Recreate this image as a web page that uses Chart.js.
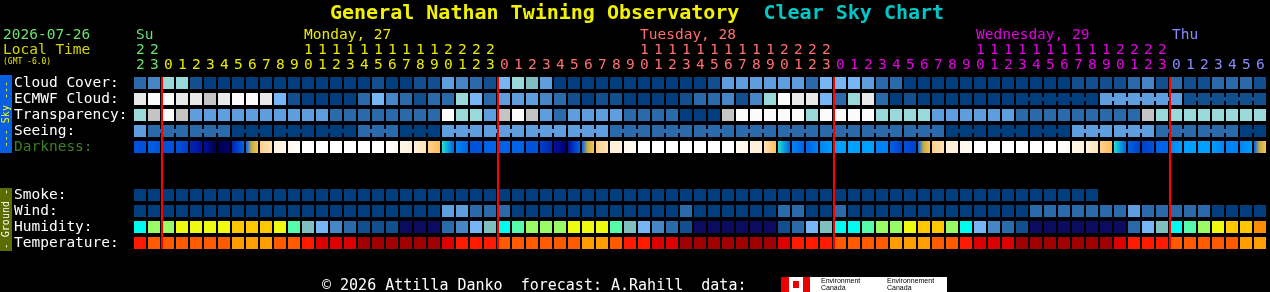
<!DOCTYPE html>
<html>
<head>
<meta charset="utf-8">
<title>Clear Sky Chart</title>
<script src="https://cdn.jsdelivr.net/npm/chart.js@4.4.1/dist/chart.umd.min.js"></script>
<style>
  html, body { margin: 0; padding: 0; background: #000; }
  body { width: 1270px; height: 292px; position: relative; overflow: hidden; font-family: 'DejaVu Sans Mono', monospace; }
  #csc { position: absolute; left: 0; top: 0; }
  .txt { position: absolute; white-space: pre; }
  .side { position: absolute; left: 0; width: 12px; display: flex; align-items: center; justify-content: center; }
  .side span { writing-mode: vertical-rl; transform: rotate(180deg); font-size: 10px; line-height: 12px; white-space: pre; }
  .logo { position: absolute; left: 781px; top: 277px; width: 166px; height: 15px; background: #fff; }
  .logo i { position: absolute; top: 0; height: 15px; background: #e00; }
  .logo b { position: absolute; font-weight: normal; font-family: 'Liberation Sans', sans-serif; font-size: 7px; line-height: 7px; color: #000; white-space: pre; }
</style>
</head>
<body>
<canvas id="csc" width="1270" height="292"></canvas>

<div class="txt" style="left:330px;top:2px;font-size:20px;line-height:20px;font-weight:bold;color:#f2f200">General Nathan Twining Observatory  <span style="color:#00c8c8">Clear Sky Chart</span></div>
<div class="txt" style="left:3px;top:27px;font-size:14.5px;line-height:15px;color:#6ee06e">2026-07-26</div>
<div class="txt" style="left:3px;top:42px;font-size:14.5px;line-height:15px;color:#d6d600">Local Time</div>
<div class="txt" style="left:3px;top:57px;font-size:8px;line-height:9px;color:#e6e600">(GMT -6.0)</div>

<div class="side" style="top:75px;height:78px;background:#0a5ee0;color:#ffff00"><span>--- Sky ---</span></div>
<div class="side" style="top:188px;height:63px;background:#5c6c00;color:#ffffff"><span>- Ground -</span></div>

<div class="txt" style="left:322px;top:277px;font-size:15px;line-height:16px;color:#ffffff">© 2026 Attilla Danko  forecast: A.Rahill  data:</div>
<div class="logo">
  <i style="left:0;width:8px"></i>
  <i style="left:12px;top:4px;width:6px;height:7px"></i>
  <i style="left:22px;width:7px"></i>
  <b style="left:40px;top:0">Environment
Canada</b>
  <b style="left:106px;top:0">Environnement
Canada</b>
</div>

<script>
// hour of each column (local time), from Sunday 22h to Thursday 6h
const hours = [
    22, 23,
    0, 1, 2, 3, 4, 5, 6, 7, 8, 9, 10, 11, 12, 13, 14, 15, 16, 17, 18, 19, 20, 21, 22, 23,
    0, 1, 2, 3, 4, 5, 6, 7, 8, 9, 10, 11, 12, 13, 14, 15, 16, 17, 18, 19, 20, 21, 22, 23,
    0, 1, 2, 3, 4, 5, 6, 7, 8, 9, 10, 11, 12, 13, 14, 15, 16, 17, 18, 19, 20, 21, 22, 23,
    0, 1, 2, 3, 4, 5, 6
];
const dayNames = ['Su', 'Monday, 27', 'Tuesday, 28', 'Wednesday, 29', 'Thu'];

const rowLabels = ['Cloud Cover:', 'ECMWF Cloud:', 'Transparency:', 'Seeing:', 'Darkness:', '', '',
    'Smoke:', 'Wind:', 'Humidity:', 'Temperature:'];

// cloud cover, percent
const cloudCover = [
    20, 30,
    60, 60, 10, 0, 0, 0, 0, 0, 0, 0, 0, 0, 0, 0, 0, 10, 0, 0, 10, 10, 40, 30, 20, 10,
    50, 60, 70, 40, 0, 0, 0, 0, 0, 0, 0, 0, 0, 0, 0, 10, 40, 40, 40, 40, 40, 40, 20, 50,
    50, 50, 40, 20, 20, 0, 0, 0, 0, 0, 0, 0, 0, 0, 0, 0, 0, 10, 10, 10, 10, 20, 30, 10,
    20, 10, 10, 20, 20, 20, 10
];
const ecmwfCloud = [
    90, 100,
    100, 90, 90, 80, 90, 100, 100, 90, 50, 10, 0, 0, 0, 0, 20, 50, 30, 20, 10, 20, 20, 60, 50, 20,
    40, 40, 40, 30, 20, 10, 0, 10, 10, 0, 0, 0, 0, 10, 20, 20, 30, 10, 30, 60, 100, 90, 90, 50,
    20, 60, 90, 20, 0, 10, 0, 0, 0, 0, 0, 0, 0, 0, 0, 0, 0, 0, 0, 40, 40, 40, 40, 40,
    40, 10, 10, 10, 10, 10, 10
];
// transparency class, 0 = transparent ... 10 = too cloudy
const transparency = [
    6, 8,
    10, 8, 4, 4, 4, 4, 4, 4, 4, 4, 4, 4, 2, 2, 2, 2, 2, 2, 2, 2, 10, 6, 6, 4,
    8, 10, 8, 4, 2, 4, 4, 4, 4, 2, 2, 2, 2, 0, 0, 0, 8, 10, 10, 10, 10, 10, 6, 10,
    10, 10, 10, 6, 6, 6, 6, 4, 4, 4, 4, 4, 4, 2, 2, 2, 2, 2, 2, 2, 2, 2, 8, 6,
    6, 6, 6, 6, 6, 6, 6
];
// seeing class, 0 = excellent
const seeing = [
    4, 2,
    2, 2, 2, 2, 2, 0, 0, 0, 0, 0, 0, 0, 0, 0, 2, 2, 2, 0, 0, 0, 4, 4, 4, 4,
    4, 4, 4, 4, 4, 4, 4, 4, 2, 2, 2, 2, 2, 2, 2, 2, 2, 2, 2, 2, 2, 2, 2, 2,
    2, 2, 2, 2, 2, 2, 2, 2, 0, 0, 0, 0, 0, 0, 0, 0, 0, 4, 4, 4, 4, 4, 4, 2,
    2, 2, 2, 2, 2, 0, 0
];
// darkness across each hour (start .. end), 0 = daylight, 16 = darkest
const darkness = [
    [11], [10, 11],
    [11], [11, 12], [13, 14], [14, 16], [16, 15], [13, 10], [10, 6, 5], [4, 3], [2, 1], [1, 0],
    [0], [0], [0], [0], [0], [0], [0, 1], [1, 2], [2, 3], [4, 5], [7, 10], [9, 10], [11], [10],
    [10], [10], [11], [12, 13], [14, 15], [14, 10], [10, 6, 5], [4, 3], [2], [1],
    [0], [0], [0], [0], [0], [0], [0], [1], [2], [3, 5], [7, 10], [9, 10], [10, 9], [9, 8],
    [8], [8], [8], [9], [10, 12], [11, 12], [10, 6, 5], [4, 3], [2], [1],
    [0], [0], [0], [0], [0], [0], [0, 1], [1, 2], [2, 3], [4, 5], [7, 10], [10, 12], [12, 11], [10],
    [9, 8], [8], [8], [8, 9], [9], [9, 8], [10, 6, 5]
];
const smoke = [
    0, 0,
    0, 0, 0, 0, 0, 0, 0, 0, 0, 0, 0, 0, 0, 0, 0, 0, 0, 0, 0, 0, 0, 0, 0, 0,
    0, 0, 0, 0, 0, 0, 0, 0, 0, 0, 0, 0, 0, 0, 0, 0, 0, 0, 0, 0, 0, 0, 0, 0,
    0, 0, 0, 0, 0, 0, 0, 0, 0, 0, 0, 0, 0, 0, 0, 0, 0, 0, 0, null, null, null, null, null,
    null, null, null, null, null, null, null
];
const wind = [
    0, 0,
    0, 0, 0, 0, 0, 0, 0, 0, 0, 0, 0, 0, 0, 0, 0, 0, 0, 0, 0, 0, 4, 4, 2, 2,
    2, 0, 0, 0, 0, 0, 0, 0, 0, 0, 0, 0, 0, 2, 0, 0, 0, 0, 0, 0, 2, 2, 0, 0,
    2, 0, 0, 0, 0, 0, 0, 0, 0, 0, 0, 0, 0, 0, 2, 2, 2, 2, 2, 2, 2, 4, 2, 2,
    2, 2, 2, 0, 0, 0, 0
];
// humidity class, 0 = driest
const humidity = [
    6, 8,
    8, 9, 9, 9, 9, 10, 10, 10, 9, 7, 5, 4, 3, 2, 1, 1, 1, 0, 0, 0, 2, 3, 4, 5,
    6, 7, 8, 8, 8, 9, 9, 9, 7, 5, 4, 3, 2, 1, 0, 0, 0, 0, 0, 0, 1, 2, 4, 5,
    6, 6, 7, 8, 8, 9, 10, 10, 8, 6, 4, 3, 2, 1, 0, 0, 0, 0, 0, 0, 0, 2, 4, 5,
    6, 7, 8, 9, 10, 10, 11
];
// temperature class, 0 = coolest here
const temperature = [
    2, 1,
    1, 1, 1, 1, 1, 0, 0, 0, 1, 1, 2, 3, 3, 3, 4, 4, 4, 4, 4, 4, 3, 2, 2, 2,
    1, 1, 1, 1, 1, 1, 0, 0, 1, 2, 2, 3, 3, 4, 4, 4, 4, 4, 4, 4, 3, 2, 2, 2,
    1, 1, 1, 1, 0, 0, 0, 1, 1, 2, 3, 3, 3, 4, 4, 4, 4, 4, 4, 4, 3, 2, 2, 2,
    1, 1, 1, 1, 1, 0, 0
];

// ECMWF switches to 3-hourly steps from this column
const ecmwfThreeHourlyFrom = 63;

// 颜色
const skyPalette = ['#003e7e', '#124f8f', '#2a6aab', '#4686c6', '#5e9ede', '#76b6f6',
    '#99d9d9', '#7fbfbf', '#c4c4c4', '#e9e9e9', '#fbfbfb'];
const darkPalette = ['#ffffff', '#fff8ee', '#fff0da', '#ffe2b6', '#ffd08c', '#ffbe5c', '#c8b040',
    '#20e0d0', '#00a0ff', '#0082f4', '#0062e6', '#0052da', '#0040ca', '#0026b2', '#0010a0',
    '#000070', '#000048'];
const humidityPalette = ['#0b0b60', '#124f8f', '#2a6aab', '#4686c6', '#76b6f6', '#7fbfbf',
    '#00fbee', '#55fbaa', '#99fb66', '#eefb11', '#ffc800', '#ff8c00'];
const tempPalette = ['#ff9c00', '#ff5a00', '#ff1a00', '#dc0000', '#a00000'];
const dayColors = ['#6ee06e', '#eaea00', '#ff6f6f', '#e600e6', '#8a8aff'];

const CELL = 12 / 14;        // cell = 12px of a 14px hour
const LABEL_SHIFT = 2 / 14;  // hour digits start 2px into the cell

const rows = [cloudCover, ecmwfCloud, transparency, seeing, darkness, null, null,
    smoke, wind, humidity, temperature];

// day of each column and where its name goes (above hour 10 when there is one)
const dayIndex = [];
hours.forEach((h, k) => dayIndex.push(k === 0 ? 0 : dayIndex[k - 1] + (h === 0 ? 1 : 0)));
const dayLabelCol = dayNames.map((_, d) => {
    const cols = hours.map((h, k) => k).filter(k => dayIndex[k] === d);
    const ten = cols.find(k => hours[k] === 10);
    return ten !== undefined ? ten : cols[0];
});
const tickLabels = hours.map((h, k) => [
    dayLabelCol[dayIndex[k]] === k ? dayNames[dayIndex[k]] : '',
    h >= 10 ? String(Math.floor(h / 10)) : '',
    String(h % 10)
]);

function cellColor(r, k, chart) {
    const v = rows[r] ? rows[r][k] : null;
    if (v === null || v === undefined) return 'rgba(0,0,0,0)';
    if (r === 0 || r === 1) return skyPalette[v / 10];
    if (r === 9) return humidityPalette[v];
    if (r === 10) return tempPalette[v];
    if (r === 4) {
        if (v.length === 1 || !chart.chartArea) return darkPalette[v[0]];
        const x = chart.scales.x;
        const g = chart.ctx.createLinearGradient(x.getPixelForValue(k), 0, x.getPixelForValue(k + CELL), 0);
        v.forEach((s, i) => g.addColorStop(i / (v.length - 1), darkPalette[s]));
        return g;
    }
    return skyPalette[v];
}

// seeing comes in 3-hour blocks, ECMWF too at the end
function joined(r, k) {
    if (r === 3) return Math.floor((k - 1) / 3) === Math.floor(k / 3);
    if (r === 1) return k >= ecmwfThreeHourlyFrom && ecmwfCloud[k] === ecmwfCloud[k + 1];
    return false;
}

const cellSets = hours.map((h, k) => ({
    data: rows.map(row => row && row[k] !== null && row[k] !== undefined ? [k, k + CELL] : null),
    backgroundColor: ctx => cellColor(ctx.dataIndex, k, ctx.chart),
    barPercentage: 0.75
}));
const joinSets = hours.slice(0, -1).map((h, k) => ({
    data: rowLabels.map((_, r) => joined(r, k) ? [k + CELL - 0.02, k + 1 + 0.02] : null),
    backgroundColor: ctx => cellColor(ctx.dataIndex, k, ctx.chart),
    barPercentage: 0.25
}));

// 午夜红线
const midnightLines = {
    id: 'midnightLines',
    afterDatasetsDraw(chart) {
        const { ctx, chartArea, scales: { x } } = chart;
        ctx.save();
        ctx.fillStyle = '#ff0000';
        hours.forEach((h, k) => {
            if (h === 0) {
                const px = Math.round(x.getPixelForValue(k));
                ctx.fillRect(px - 1, chartArea.top + 2, 2, chartArea.height - 4);
            }
        });
        ctx.restore();
    }
};

const labelFont = { family: 'DejaVu Sans Mono', size: 14.5, lineHeight: 15 / 14.5 };

new Chart(document.getElementById('csc'), {
    type: 'bar',
    data: { labels: rowLabels, datasets: [...cellSets, ...joinSets] },
    options: {
        indexAxis: 'y',
        responsive: false,
        animation: false,
        events: [],
        layout: { padding: { left: 14, right: 2, top: 0, bottom: 41 } },
        datasets: {
            bar: { grouped: false, categoryPercentage: 1, inflateAmount: 0, borderWidth: 0 }
        },
        plugins: {
            legend: { display: false },
            tooltip: { enabled: false },
            title: { display: false }
        },
        scales: {
            x: {
                type: 'linear',
                position: 'top',
                min: 0,
                max: hours.length,
                grid: { display: false, drawTicks: false },
                border: { display: false },
                afterBuildTicks: s => { s.ticks = hours.map((h, k) => ({ value: k + LABEL_SHIFT })); },
                afterFit: s => { s.height = 75; },
                ticks: {
                    autoSkip: false,
                    minRotation: 0,
                    maxRotation: 0,
                    align: 'start',
                    padding: 2.5,
                    font: labelFont,
                    color: c => dayColors[dayIndex[c.index]],
                    callback: (v, i) => tickLabels[i]
                }
            },
            y: {
                type: 'category',
                grid: { display: false, drawTicks: false },
                border: { display: false },
                afterFit: s => { s.width = 120; },
                ticks: {
                    autoSkip: false,
                    crossAlign: 'far',
                    padding: 0,
                    font: labelFont,
                    color: c => c.index === 4 ? '#3f7f27' : '#ffffff'
                }
            }
        }
    },
    plugins: [midnightLines]
});
</script>
</body>
</html>
